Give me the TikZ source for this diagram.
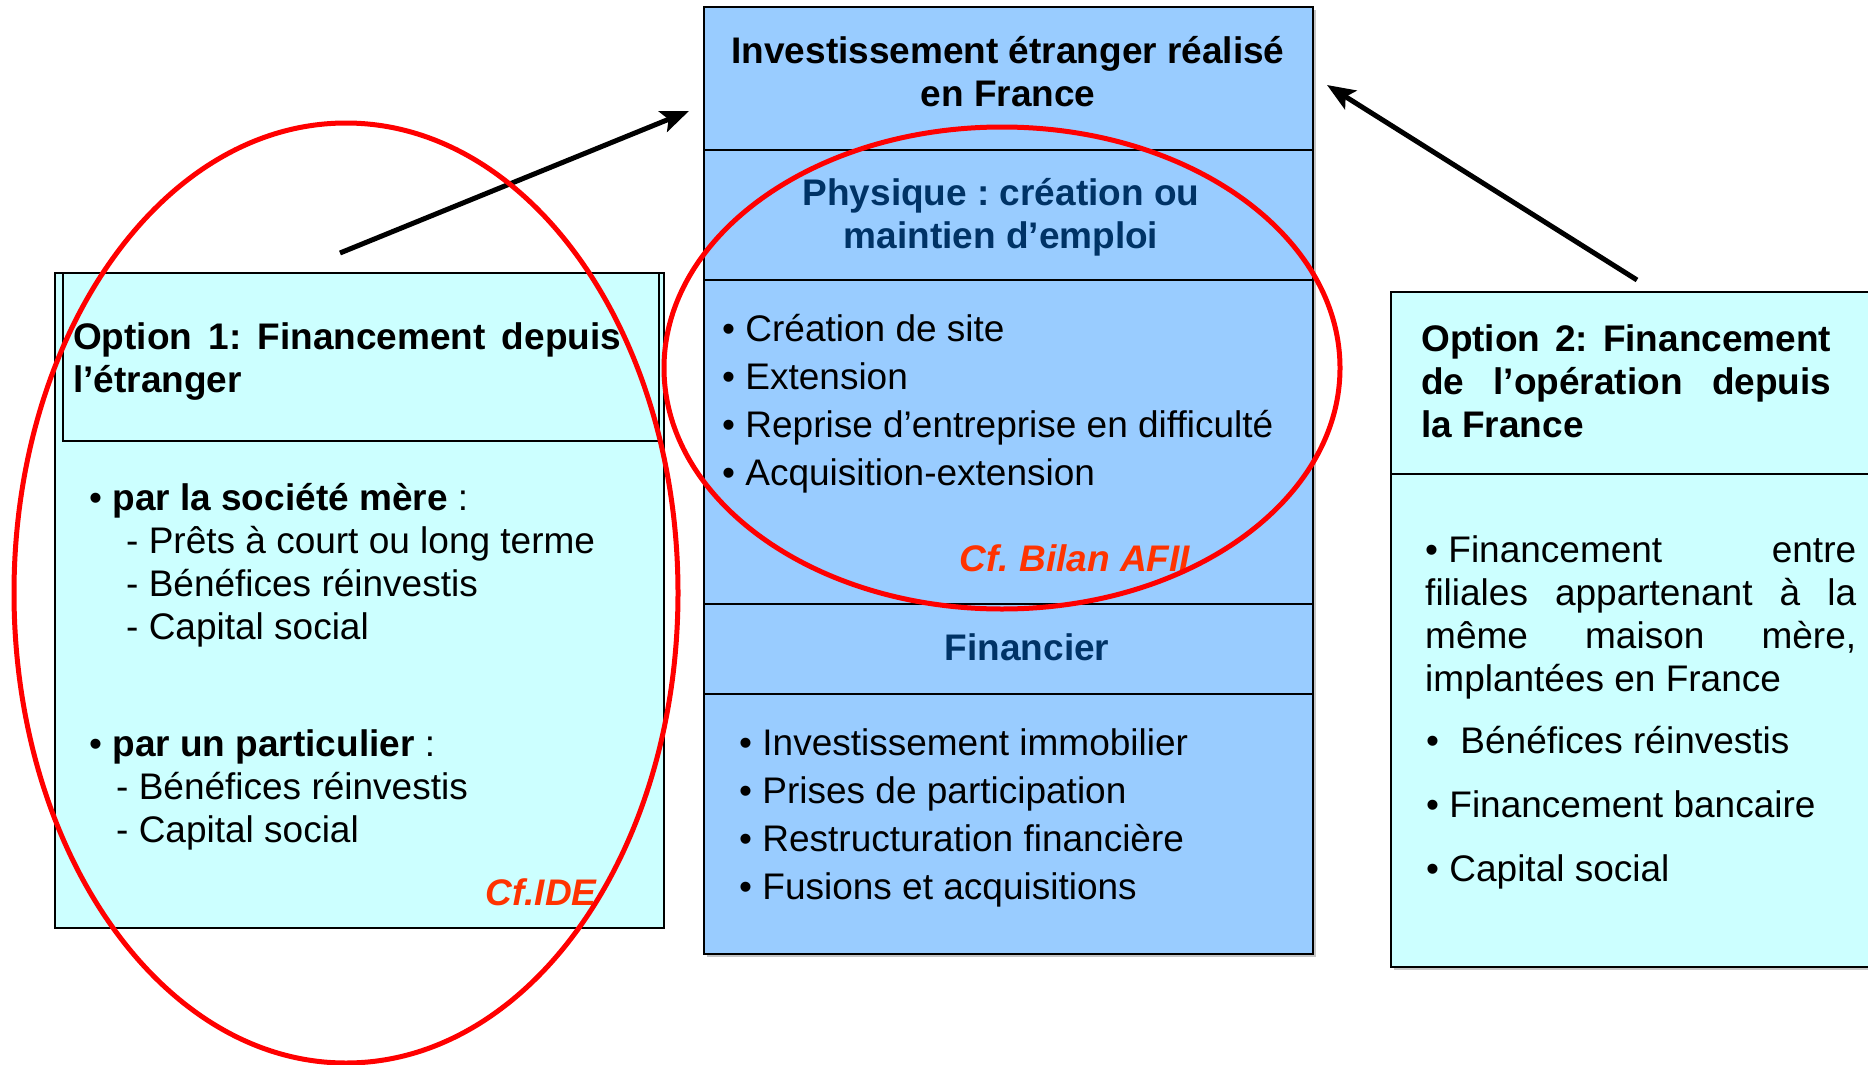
\documentclass[tikz,border=0pt]{standalone}
\usepackage{fontspec}
\setmainfont{Liberation Sans}
\usetikzlibrary{arrows.meta}
\definecolor{midblue}{HTML}{99CCFF}
\definecolor{paleblue}{HTML}{CCFFFF}
\definecolor{navy}{HTML}{003366}
\definecolor{cforange}{HTML}{FF3300}
\frenchspacing
\begin{document}
\begin{tikzpicture}[x=1pt,y=-1pt,
  txt/.style={inner sep=0pt, align=left, font=\fontsize{37}{43}\selectfont},
  txtb/.style={inner sep=0pt, align=left, font=\fontsize{37}{43}\selectfont\bfseries},
  wide/.style={inner sep=0pt, align=left, font=\fontsize{37}{48}\selectfont},
  hd/.style={inner sep=0pt, align=center, text=navy, font=\fontsize{37}{43}\selectfont\bfseries},
  cf/.style={inner sep=0pt, text=cforange, font=\fontsize{37}{43}\selectfont\bfseries\itshape},
  boxline/.style={draw=black, line width=2.2pt},
  ring/.style={draw=red, line width=5pt},
  arr/.style={line width=5pt, -{Stealth[length=28pt,width=22pt,inset=6pt]}}]
\clip (0,0) rectangle (1868,1065);
\fill[white] (0,0) rectangle (1868,1065);

% ---- Option 1 box
\fill[paleblue] (55,273) rectangle (664,928);
\draw[boxline] (55,273) rectangle (664,928);
\draw[boxline] (63,273) rectangle (659,441);

% ---- centre box
\fill[gray!45] (707,10) rectangle (1316,957);
\fill[midblue] (704,7) rectangle (1313,954);
\draw[boxline] (704,7) rectangle (1313,954);
\draw[boxline] (704,150) -- (1313,150);
\draw[boxline] (704,280) -- (1313,280);
\draw[boxline] (704,604) -- (1313,604);
\draw[boxline] (704,694) -- (1313,694);

% ---- Option 2 box
\fill[gray!45] (1394,295) rectangle (1880,970);
\fill[paleblue] (1391,292) rectangle (1880,967);
\draw[boxline] (1391,292) rectangle (1880,967);
\draw[boxline] (1391,474) -- (1880,474);

% ---- centre texts
\node[txtb, align=center] (title) at (1008,72) {Investissement étranger réalisé\\en France};
\node[hd] (phys) at (1001,217) {Physique : création ou\\maintien d’emploi};
\node[wide, anchor=west] (list1) at (722,404) {• Création de site\\• Extension\\• Reprise d’entreprise en difficulté\\• Acquisition-extension};
\node[cf] (cfafii) at (1075,558) {Cf. Bilan AFII};
\node[hd] (fin) at (1027,647) {Financier};
\node[wide, anchor=west] (list2) at (739,818) {• Investissement immobilier\\• Prises de participation\\• Restructuration financière\\• Fusions et acquisitions};

% ---- Option 1 texts
\node[txtb, anchor=west] (opt1) at (73,362) {\makebox[548pt][s]{Option 1: Financement depuis}\\l’étranger};
\node[txt, anchor=west] (mere) at (89,565) {• \textbf{par la société mère} :\\\hspace*{37pt}- Prêts à court ou long terme\\\hspace*{37pt}- Bénéfices réinvestis\\\hspace*{37pt}- Capital social};
\node[txt, anchor=west] (part) at (89,790) {• \textbf{par un particulier} :\\\hspace*{27pt}- Bénéfices réinvestis\\\hspace*{27pt}- Capital social};
\node[cf] (cfide) at (541,892) {Cf.IDE};

% ---- Option 2 texts
\node[txtb, anchor=west] (opt2) at (1421,381) {\makebox[410pt][s]{Option 2: Financement}\\\makebox[410pt][s]{de l’opération depuis}\\la France};
\node[txt, anchor=west] (opt2a) at (1425,617) {\hbox to 431pt{• Financement\hfill entre}\\\makebox[431pt][s]{filiales appartenant à la}\\\makebox[431pt][s]{même maison mère,}\\implantées en France};
\node[inner sep=0pt, align=left, font=\fontsize{37}{64}\selectfont, anchor=west] (opt2b) at (1426,808) {•\hspace{11pt} Bénéfices réinvestis\\• Financement bancaire\\• Capital social};

% ---- arrows
\coordinate (a1s) at (340,253);
\coordinate (a1e) at (689,111);
\coordinate (a2s) at (1637,280);
\coordinate (a2e) at (1327,85);
\draw[arr] (a1s) -- (a1e);
\draw[arr] (a2s) -- (a2e);

% ---- red ellipses
\draw[ring] (346,593) ellipse [x radius=332pt, y radius=470pt];
\draw[ring] (1002,368) ellipse [x radius=338pt, y radius=241pt];
\end{tikzpicture}
\end{document}
